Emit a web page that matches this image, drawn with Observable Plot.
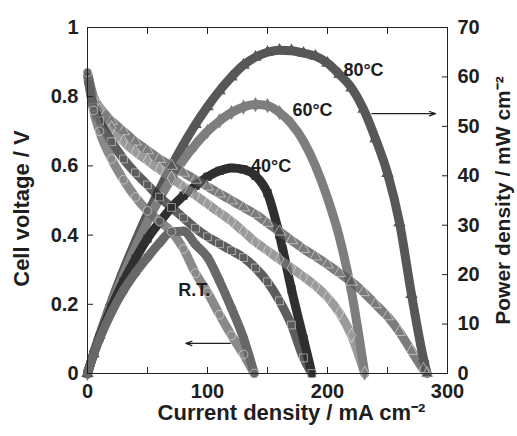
<!DOCTYPE html>
<html>
<head>
<meta charset="utf-8">
<script src="https://cdn.jsdelivr.net/npm/d3@7"></script>
<script src="https://cdn.jsdelivr.net/npm/@observablehq/plot@0.6"></script>
<style>
  html, body { margin: 0; padding: 0; background: #fff; }
  #chart { width: 517px; height: 436px; }
</style>
</head>
<body>
<div id="chart"></div>
<script>
// ---- Data ----
// Current density (mA cm-2), cell voltage (V), power density (mW cm-2)
const I80 = [0, 5, 10, 20, 30, 40, 50, 60, 70, 80, 90, 100, 110, 120, 130, 140, 150, 160, 170, 180, 190, 200, 210, 220, 230, 240, 250, 260, 270, 280, 283];
const V80 = [0.87, 0.80, 0.77, 0.73, 0.70, 0.67, 0.645, 0.62, 0.60, 0.58, 0.56, 0.54, 0.52, 0.50, 0.48, 0.46, 0.435, 0.41, 0.385, 0.36, 0.338, 0.315, 0.29, 0.265, 0.235, 0.20, 0.165, 0.12, 0.065, 0.012, 0];
const P80 = [0, 4, 7.7, 14.6, 21, 26.8, 32.3, 37.2, 42, 46.4, 50.4, 54, 57.2, 60, 62.4, 64, 65, 65.4, 65.3, 64.8, 64.2, 62.8, 60.5, 57.8, 53.5, 47.5, 40.5, 30.5, 16, 3, 0];

const I60 = [0, 5, 10, 20, 30, 40, 50, 60, 70, 80, 90, 100, 110, 120, 130, 140, 150, 160, 170, 180, 190, 200, 210, 220, 231];
const V60 = [0.87, 0.79, 0.76, 0.71, 0.67, 0.64, 0.615, 0.59, 0.565, 0.54, 0.515, 0.49, 0.465, 0.44, 0.41, 0.38, 0.355, 0.33, 0.305, 0.28, 0.253, 0.22, 0.175, 0.11, 0];
const P60 = [0, 4, 7.6, 14.2, 20.1, 25.6, 30.7, 35.4, 39.5, 43.2, 46.3, 49, 51.1, 52.8, 53.9, 54.4, 54.2, 52.8, 50.5, 47, 42, 35.5, 27.5, 16.5, 0];

const I40 = [0, 5, 10, 20, 30, 40, 50, 60, 70, 80, 90, 100, 110, 120, 130, 140, 150, 160, 170, 180, 187];
const V40 = [0.86, 0.77, 0.73, 0.67, 0.62, 0.58, 0.545, 0.51, 0.48, 0.45, 0.42, 0.395, 0.375, 0.355, 0.335, 0.305, 0.265, 0.21, 0.14, 0.045, 0];
const P40 = [0, 3.9, 7.3, 13.4, 18.6, 23.2, 27.3, 30.6, 33.6, 36, 38, 39.8, 41, 41.6, 41.3, 40, 36.5, 28, 17, 7, 0];

const IRT = [0, 5, 10, 20, 30, 40, 50, 60, 70, 80, 90, 100, 110, 120, 130, 139];
const VRT = [0.87, 0.76, 0.70, 0.62, 0.56, 0.51, 0.47, 0.44, 0.41, 0.36, 0.29, 0.235, 0.17, 0.11, 0.055, 0];
const PRT = [0, 3.8, 7, 12.4, 16.8, 20.4, 23.5, 26.4, 28.7, 28.8, 26.1, 23.5, 18.7, 13.2, 7.2, 0];

// Tick labels
const xTicks = [0, 100, 200, 300];
const xMinorTicks = [0, 50, 100, 150, 200, 250, 300];
const vTicks = [0, 0.2, 0.4, 0.6, 0.8, 1];
const pTicks = [0, 10, 20, 30, 40, 50, 60, 70];
const P_MAX = 70;

// Series labels and annotations
const seriesLabels = ["80°C", "60°C", "40°C", "R.T."];
const labelX = [230, 187.5, 153, 89];
const labelY = [0.876, 0.76, 0.60, 0.24];
const arrowX1 = [237, 119];
const arrowX2 = [290, 82];
const arrowY = [0.751, 0.087];

// ---- Build tables ----
const series = [
  {name: "80", I: I80, V: V80, P: P80, color: "#575757", symbol: "triangle"},
  {name: "60", I: I60, V: V60, P: P60, color: "#7e7e7e", symbol: "diamond"},
  {name: "40", I: I40, V: V40, P: P40, color: "#2f2f2f", symbol: "square"},
  {name: "RT", I: IRT, V: VRT, P: PRT, color: "#686868", symbol: "circle"}
];

const marks = [];
// power curves (filled markers)
for (const s of series) {
  const rows = s.I.map((x, i) => ({x, p: s.P[i]}));
  marks.push(Plot.line(rows, {x: "x", y: d => d.p / P_MAX, stroke: s.color, strokeWidth: 9, curve: "monotone-x"}));
  marks.push(Plot.dot(rows, {x: "x", y: d => d.p / P_MAX, symbol: s.symbol, r: 4.6, fill: s.color, stroke: "none"}));
}
// polarization curves (open markers)
for (const s of series) {
  const rows = s.I.map((x, i) => ({x, v: s.V[i]}));
  marks.push(Plot.line(rows, {x: "x", y: "v", stroke: s.color, strokeOpacity: 0.78, strokeWidth: 9, curve: "monotone-x"}));
  marks.push(Plot.dot(rows, {x: "x", y: "v", symbol: s.symbol, r: 4.4, fill: "none", stroke: "#ffffff", strokeWidth: 0.8, strokeOpacity: 0.6}));
}

const labels = seriesLabels.map((t, i) => ({t, x: labelX[i], y: labelY[i]}));
const arrows = arrowX1.map((x1, i) => ({x1, x2: arrowX2[i], y: arrowY[i]}));

const font = "'Liberation Sans', Arial, Helvetica, sans-serif";

const chart = Plot.plot({
  width: 517,
  height: 436,
  marginLeft: 87,
  marginRight: 70,
  marginTop: 27,
  marginBottom: 63,
  style: {fontFamily: font, fontWeight: "bold", fontSize: "20px", color: "#1e1e1e", background: "#fff"},
  x: {domain: [0, 300]},
  y: {domain: [0, 1]},
  marks: [
    ...marks,
    Plot.frame({stroke: "#222", strokeWidth: 1}),
    Plot.axisX({ticks: xMinorTicks, tickSize: -6, tickFormat: () => "", label: null}),
    Plot.axisX({ticks: xTicks, tickSize: 0, tickPadding: 10, label: null}),
    Plot.axisX({anchor: "top", ticks: xMinorTicks, tickSize: -6, tickFormat: () => "", label: null}),
    Plot.axisY({ticks: vTicks, tickSize: -6, tickPadding: 15, tickFormat: d => String(d), label: null}),
    Plot.axisY({anchor: "right", ticks: pTicks.map(p => p / P_MAX), tickSize: -6, tickPadding: 16, tickFormat: d => String(Math.round(d * P_MAX)), label: null}),
    Plot.text(labels, {x: "x", y: "y", text: "t", fontSize: 18, fontWeight: "bold", fill: "#1e1e1e"}),
    Plot.arrow(arrows, {x1: "x1", x2: "x2", y1: "y", y2: "y", stroke: "#222", strokeWidth: 1.2, headLength: 8, headAngle: 40}),
    Plot.text(["Cell voltage / V"], {frameAnchor: "left", textAnchor: "middle", dx: -66, dy: 8, rotate: -90, fontSize: 22, fontWeight: "bold", fill: "#1e1e1e"}),
    Plot.text(["Power density / mW cm⁻²"], {frameAnchor: "right", textAnchor: "middle", dx: 56, rotate: -90, fontSize: 21, fontWeight: "bold", fill: "#1e1e1e"}),
    Plot.text(["Current density / mA cm⁻²"], {frameAnchor: "bottom", textAnchor: "middle", dy: 46, dx: 24, fontSize: 22, fontWeight: "bold", fill: "#1e1e1e"})
  ]
});
document.getElementById("chart").appendChild(chart);
</script>
</body>
</html>
